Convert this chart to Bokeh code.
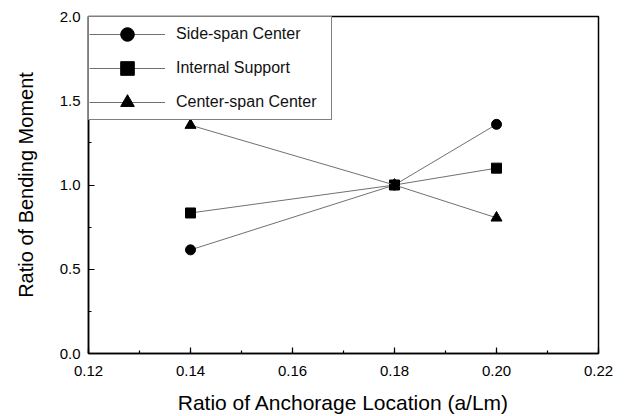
from bokeh.plotting import figure
from bokeh.models import (ColumnDataSource, Legend, LegendItem,
                          SingleIntervalTicker, NumeralTickFormatter, Range1d)
from bokeh.embed import file_html
from bokeh.resources import INLINE

# Anchorage location ratio (a/Lm) and bending moment ratios
anchorage = [0.14, 0.18, 0.20]
side_span_center = [0.615, 1.00, 1.36]
internal_support = [0.834, 1.00, 1.10]
center_span_center = [1.355, 1.00, 0.805]

series = [
    ("Side-span Center", side_span_center, "circle", 10),
    ("Internal Support", internal_support, "square", 10),
    ("Center-span Center", center_span_center, "triangle", 11),
]

FONT = "Liberation Sans"

p = figure(width=628, height=416, output_backend="svg", toolbar_location=None,
           x_range=Range1d(0.12, 0.22), y_range=Range1d(0.0, 2.0),
           min_border_left=88, min_border_right=30, min_border_top=16, min_border_bottom=62)

p.outline_line_color = "black"
p.outline_line_width = 1.5
p.grid.visible = False
p.background_fill_color = "white"
p.border_fill_color = "white"

items = []
for label, vals, marker, size in series:
    src = ColumnDataSource(dict(x=anchorage, y=vals))
    ln = p.line("x", "y", source=src, line_color="#707070", line_width=1)
    sc = p.scatter("x", "y", source=src, marker=marker, size=size,
                   fill_color="black", line_color="black")
    items.append(LegendItem(label=label, renderers=[ln, sc]))

# boxed legend in the upper-left corner of the frame
legend = Legend(items=items, location="top_left", margin=0, padding=0,
                glyph_width=76, glyph_height=34, spacing=0, label_standoff=11,
                label_width=155,
                label_text_font=FONT, label_text_font_size="16px",
                label_text_color="#111111",
                border_line_color="black", border_line_width=1.2,
                background_fill_alpha=1.0)
p.add_layout(legend)

for ax in (p.xaxis[0], p.yaxis[0]):
    ax.axis_line_color = "black"
    ax.axis_line_width = 1.5
    ax.major_tick_in = 6
    ax.major_tick_out = 0
    ax.minor_tick_in = 3
    ax.minor_tick_out = 0
    ax.major_tick_line_width = 1.2
    ax.minor_tick_line_width = 1.2
    ax.major_label_text_font = FONT
    ax.major_label_text_font_size = "15px"
    ax.major_label_text_color = "black"
    ax.axis_label_text_font = FONT
    ax.axis_label_text_font_style = "normal"
    ax.axis_label_text_color = "black"

p.xaxis.axis_label_text_font_size = "21px"
p.yaxis.axis_label_text_font_size = "20px"
p.xaxis.ticker = SingleIntervalTicker(interval=0.02, num_minor_ticks=2)
p.yaxis.ticker = SingleIntervalTicker(interval=0.5, num_minor_ticks=2)
p.xaxis.formatter = NumeralTickFormatter(format="0.00")
p.yaxis.formatter = NumeralTickFormatter(format="0.0")
p.xaxis.major_label_standoff = 12
p.yaxis.major_label_standoff = 8
p.xaxis.axis_label = "Ratio of Anchorage Location (a/Lm)"
p.yaxis.axis_label = "Ratio of Bending Moment"
p.xaxis.axis_label_standoff = 12
p.yaxis.axis_label_standoff = 20

open("out.html", "w").write(file_html(p, INLINE))
